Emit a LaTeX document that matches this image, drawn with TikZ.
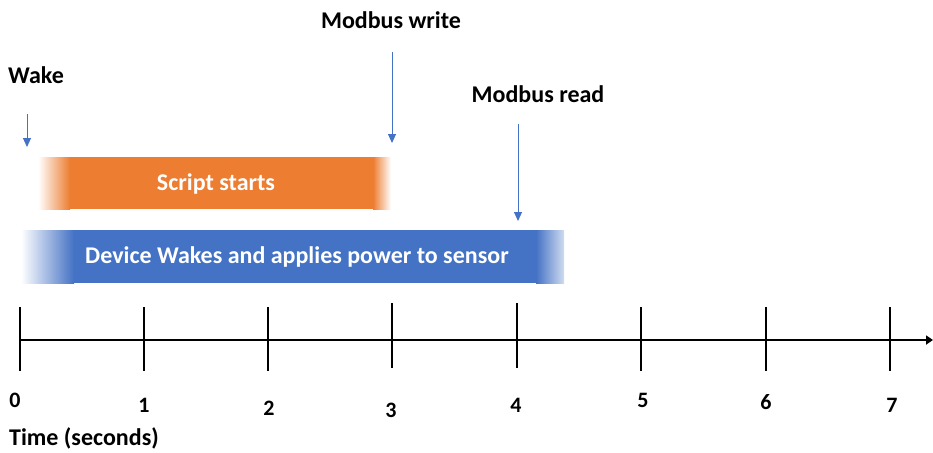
\documentclass[tikz,border=0pt]{standalone}
\usepackage{fontspec}
\setmainfont{Carlito}
\usetikzlibrary{arrows.meta}
\definecolor{borange}{HTML}{ED7D31}
\definecolor{bblue}{HTML}{4472C4}
\begin{document}
\begin{tikzpicture}[x=1pt,y=-1pt,
  lbl/.style={font=\fontsize{24}{28}\selectfont\bfseries, text=black, inner sep=0pt},
  barlbl/.style={font=\fontsize{24}{28}\selectfont\bfseries, text=white, inner sep=0pt},
  num/.style={font=\fontsize{22}{26}\selectfont\bfseries, text=black, inner sep=0pt},
  evarrow/.style={bblue, line width=1pt, -{Triangle[length=9pt,width=8pt]}},
  tick/.style={line width=2.2pt, black},
  axis/.style={line width=2.6pt, black, -{Triangle[length=7pt,width=9pt]}}]
\useasboundingbox (0,0) rectangle (933,452);
% bars
\fill[borange] (70,157) rectangle (373,209);
\shade[left color=white, right color=borange] (38,157) rectangle (70,209);
\shade[left color=borange, right color=white] (373,157) rectangle (391,209);
\node[barlbl] (script) at (216,184) {Script starts};
\fill[bblue] (74,230) rectangle (536,283);
\shade[left color=white, right color=bblue] (21,230) rectangle (74,283);
\shade[left color=bblue, right color=white!75!bblue] (536,230) rectangle (564,283);
\node[barlbl] (device) at (297,257) {Device Wakes and applies power to sensor};
% event labels
\node[lbl] (wake) at (36,75) {Wake};
\node[lbl] (mwrite) at (391,20) {Modbus write};
\node[lbl] (mread) at (538,94) {Modbus read};
\coordinate (wakeS) at (27,114);
\coordinate (wakeE) at (27,147);
\coordinate (mwS) at (392,52);
\coordinate (mwE) at (392,143);
\coordinate (mrS) at (518,124);
\coordinate (mrE) at (518,221);
\draw[evarrow] (wakeS) -- (wakeE);
\draw[evarrow] (mwS) -- (mwE);
\draw[evarrow] (mrS) -- (mrE);
% axis
\coordinate (axS) at (19,340);
\coordinate (axE) at (933,340);
\draw[axis] (axS) -- (axE);
\foreach \x/\t/\b in {20/307/371, 144/307/371, 268/307/371, 392/303/368, 517/303/368, 641/307/371, 766/307/371, 890/307/371}
  \draw[tick] (\x,\t) -- (\x,\b);
\node[num] (n0) at (15,400) {0};
\node[num] (n1) at (144,405) {1};
\node[num] (n2) at (269,408) {2};
\node[num] (n3) at (391,410) {3};
\node[num] (n4) at (516,405) {4};
\node[num] (n5) at (643,400) {5};
\node[num] (n6) at (766,402) {6};
\node[num] (n7) at (892,405) {7};
\node[lbl, anchor=west] (time) at (9,438) {Time (seconds)};
\end{tikzpicture}
\end{document}
